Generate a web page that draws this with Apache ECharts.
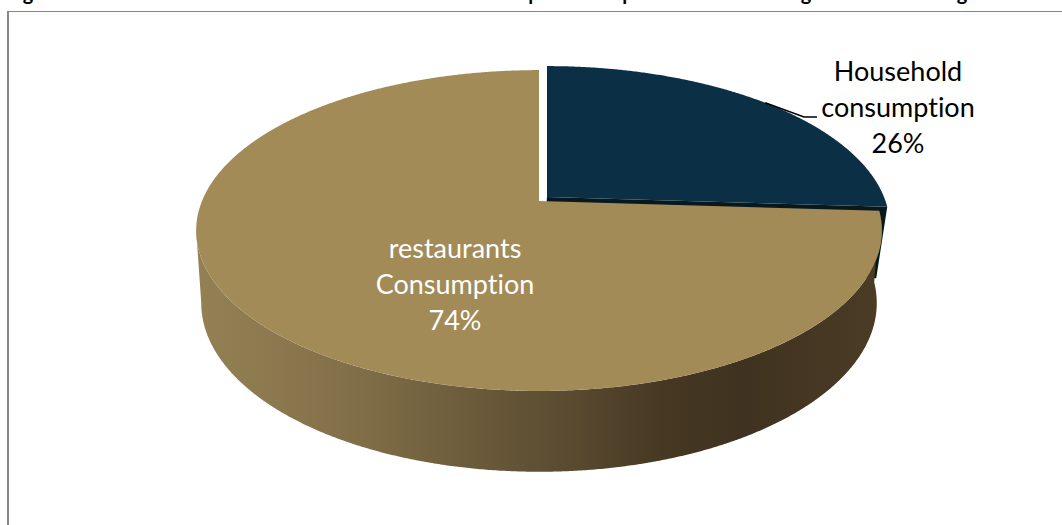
<!DOCTYPE html>
<html>
<head>
<meta charset="utf-8">
<style>
html,body{margin:0;padding:0;background:#fff}
#chart{width:1062px;height:525px}
#chart text{font-variant-ligatures:none !important}
</style>
<script src="https://cdn.jsdelivr.net/npm/echarts@6/dist/echarts.min.js"></script>
</head>
<body>
<div id="chart"></div>
<script>
// Consumption shares
const categories = ['Household', 'restaurants'];
const labelTopLines = ['Household\nconsumption', 'restaurants\nConsumption'];
const shares = [26, 74];

// Tails of the heading line, which runs off the top of the page
const headingLetters = ['g', 'p', 'p', 'g', 'g'];
const headingLetterX = [28, 534, 628, 806, 962];

// Perspective disc: axis units are pixels measured from the disc's hub
const tilt = 0.184;
const topDisc = { a: 337, b: 155, hub: 0 };
const baseDisc = { a: 332, b: 163, hub: 71 };

const sliceStyle = [
  { face: '#0b3045', wall: '#07191f', shift: [8, -4], wallShift: [2, -4], labelX: 898, labelY: 106, labelColor: '#000' },
  { face: '#a38b57', wall: null, shift: [0, 0], labelX: 455, labelY: 283, labelColor: '#fff' }
];
const wallStops = [
  [0, '#938053'], [0.12, '#8b784e'], [0.25, '#7f6d47'], [0.4, '#6c5b3b'],
  [0.55, '#594a30'], [0.68, '#463822'], [0.8, '#3f3220'], [1, '#4b3c25']
];

// Clockwise angle from twelve o'clock to a point on a tilted disc
function discPoint(disc, angle, shift) {
  const u = Math.sin(angle), v = -Math.cos(angle), w = 1 - tilt * v;
  return [disc.a * u / w + shift[0], disc.b * v / w + disc.hub + shift[1]];
}
function arc(disc, from, to, shift) {
  const pts = [], n = Math.max(2, Math.ceil(Math.abs(to - from) * 180));
  for (let i = 0; i <= n; i++) pts.push(discPoint(disc, from + (to - from) * i / n, shift));
  return pts;
}

const total = shares.reduce((s, v) => s + v, 0);

function renderSlice(params, api) {
  const i = params.dataIndex;
  const style = sliceStyle[i];
  let before = 0;
  for (let k = 0; k < i; k++) before += shares[k];
  const start = before / total * 2 * Math.PI;
  const end = (before + api.value(2)) / total * 2 * Math.PI;
  const shift = style.shift;
  const toPx = p => api.coord(p);
  const polygon = (pts, fill) => ({
    type: 'polygon', silent: true,
    shape: { points: pts.map(toPx) },
    style: { fill: fill }
  });
  const children = [];

  if (style.wall) {
    // Cut face along the slice's lower radial edge
    const hubTop = [shift[0], topDisc.hub + shift[1]];
    const hubBase = [style.wallShift[0], baseDisc.hub + style.wallShift[1]];
    children.push(polygon([hubTop, discPoint(topDisc, end, shift), discPoint(baseDisc, end, style.wallShift), hubBase], style.wall));
  } else {
    // Rim, from the slice's start round to the left silhouette
    const leftLimit = 259.6 * Math.PI / 180;
    const rim = arc(topDisc, start, leftLimit, shift).concat(arc(baseDisc, leftLimit, start, shift));
    children.push(polygon(rim, {
      type: 'linear', x: 0, y: 0, x2: 1, y2: 0,
      colorStops: wallStops.map(s => ({ offset: s[0], color: s[1] }))
    }));
  }

  // Top face
  const hub = [shift[0], topDisc.hub + shift[1]];
  children.push(polygon([hub].concat(arc(topDisc, start, end, shift)), style.face));

  // Value label
  const text = labelTopLines[i] + '\n' + api.value(2) + '%';
  children.push({
    type: 'text', silent: true, z2: 10,
    style: {
      text: text, x: style.labelX, y: style.labelY,
      fill: style.labelColor, align: 'center', verticalAlign: 'middle',
      fontFamily: 'Lato', fontSize: 27, lineHeight: 36
    }
  });

  // Leader from the middle of the outer slice to its label
  if (i === 0) {
    const mid = toPx(discPoint(topDisc, (start + end) / 2, shift));
    children.push({
      type: 'polyline', silent: true, z2: 10,
      shape: { points: [mid, [804, 117], [817, 117]] },
      style: { stroke: '#000', lineWidth: 1.5, fill: 'none' }
    });
  }
  return { type: 'group', children: children };
}

const chart = echarts.init(document.getElementById('chart'), null, { renderer: 'svg' });
chart.setOption({
  backgroundColor: '#fff',
  animation: false,
  grid: { left: 196, top: 70, width: 686, height: 401 },
  xAxis: { type: 'value', min: -343, max: 343, show: false },
  yAxis: { type: 'value', min: -131, max: 270, inverse: true, show: false },
  graphic: [
    { type: 'line', silent: true, shape: { x1: 8, y1: 11, x2: 8, y2: 525 }, style: { stroke: '#868686', lineWidth: 2 } },
    { type: 'line', silent: true, shape: { x1: 7, y1: 11.5, x2: 1062, y2: 11.5 }, style: { stroke: '#868686', lineWidth: 1 } }
  ].concat(headingLetters.map((letter, i) => ({
    type: 'text', silent: true,
    style: {
      text: letter, x: headingLetterX[i], y: 2, align: 'center', verticalAlign: 'bottom',
      fill: '#000', fontFamily: 'Lato', fontWeight: 'bold', fontSize: 20
    }
  }))),
  series: [{
    type: 'custom',
    coordinateSystem: 'cartesian2d',
    renderItem: renderSlice,
    clip: false,
    silent: true,
    encode: { x: 0, y: 1 },
    data: shares.map((v, i) => ({ name: categories[i], value: [0, 0, v] }))
  }]
});
</script>
</body>
</html>
